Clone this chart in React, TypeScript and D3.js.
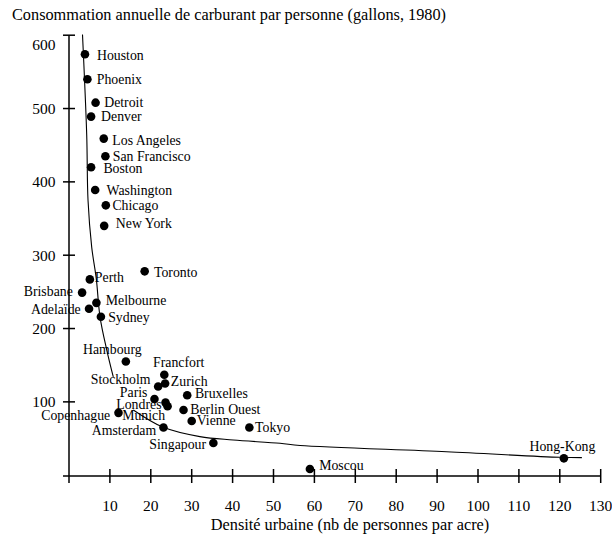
import React from "react";
import * as d3 from "d3";

// ---- Data ----
const cities = [
  "Houston", "Phoenix", "Detroit", "Denver", "Los Angeles", "San Francisco",
  "Boston", "Washington", "Chicago", "New York", "Perth", "Toronto",
  "Brisbane", "Melbourne", "Adelaïde", "Sydney", "Hambourg", "Francfort",
  "Zurich", "Stockholm", "Paris", "Londres", "Munich", "Copenhague",
  "Amsterdam", "Bruxelles", "Berlin Ouest", "Vienne", "Tokyo", "Singapour",
  "Moscou", "Hong-Kong",
];
// Urban density (persons per acre)
const density = [
  3.9, 4.5, 6.5, 5.4, 8.5, 8.9,
  5.4, 6.4, 9.0, 8.6, 5.1, 18.5,
  3.2, 6.7, 4.9, 7.8, 13.9, 23.3,
  23.5, 21.8, 20.9, 23.6, 24.1, 12.1,
  23.1, 28.9, 28.0, 30.0, 44.1, 35.3,
  58.9, 121.0,
];
// Annual fuel consumption per person (gallons, 1980)
const gallons = [
  574, 540, 508, 489, 459, 435,
  420, 389, 368, 340, 267, 278,
  249, 235, 227, 216, 155, 137,
  125, 121, 104, 99, 94, 85,
  65, 109, 89, 74, 65, 44,
  8.5, 23,
];
// Fitted curve as drawn in the reference (NaN = gap in the drawn line)
const curveX = [3.3, 4.33, 4.65, 5.55, 6.67, 7.58, 9.22, 10.83, NaN, 15.72, 23.06, 32.0, 40.17, 51.6, 56.5, 92.3, 120.0, 125.4];
const curveY = [601, 464, 375, 311, 268, 216, 171, 134, NaN, 89, 65.3, 52.6, 48.0, 43.5, 40.5, 32.0, 24.4, 23.9];

const xTicks = [10, 20, 30, 40, 50, 60, 70, 80, 90, 100, 110, 120, 130];
const yTicks = [100, 200, 300, 400, 500, 600];

const title = "Consommation annuelle de carburant par personne (gallons, 1980)";
const xTitle = "Densité urbaine (nb de personnes par acre)";

// ---- Label layout (anchor, dx, dy relative to the point) ----
const labelLayout: [string, number, number][] = [
  ["start", 12, 1], ["start", 9.4, 0], ["start", 8.6, 0], ["start", 10, 0], ["start", 8.6, 2], ["start", 7.4, 0],
  ["start", 12.3, 1], ["start", 11.4, 0.5], ["start", 6.6, 0], ["start", 11.7, -2], ["start", 5, -2], ["start", 9.3, 1.3],
  ["end", -9.3, -1], ["start", 9.4, -2], ["end", -8.3, 0.3], ["start", 7.3, 0.5], ["middle", -13.5, -12.4], ["middle", 14.4, -12.3],
  ["start", 5.7, -1.6], ["end", -7.6, -7], ["end", -7, -6.6], ["end", -4, 1.5], ["end", -2.5, 9.5], ["end", -8.3, 3],
  ["end", -7.3, 3.4], ["start", 7.7, -1.7], ["start", 6.7, 0], ["start", 5, 0], ["start", 5.7, 0], ["end", -7.3, 1.3],
  ["start", 9.3, -4], ["middle", -1.5, -12.3],
];

const W = 612;
const H = 537;
const FONT = "'Liberation Serif', 'Times New Roman', Times, serif";

export default function App() {
  const x = d3.scaleLinear().domain([0, 130]).range([69, 600.7]);
  const y = d3.scaleLinear().domain([0, 600]).range([475.2, 35.2]);
  const axisY = 476;

  const curvePts = curveX.map((cx, i) => [cx, curveY[i]] as [number, number]);
  const line = d3
    .line<[number, number]>()
    .defined((d) => !isNaN(d[0]) && !isNaN(d[1]))
    .x((d) => x(d[0]))
    .y((d) => y(d[1]))
    .curve(d3.curveCatmullRom.alpha(0.5));

  const labelFs = 13.8;

  return (
    <svg
      width={W}
      height={H}
      style={{ position: "absolute", left: 0, top: 0, background: "#fff" }}
      fontFamily={FONT}
    >
      <rect x={0} y={0} width={W} height={H} fill="#fff" />
      {/* title */}
      <text x={12} y={20} fontSize={16.3} fill="#000">
        {title}
      </text>

      {/* axes */}
      <line x1={x(0)} x2={x(0)} y1={y(600)} y2={483} stroke="#000" strokeWidth={1.5} />
      <line x1={x(0) - 6} x2={x(130)} y1={axisY} y2={axisY} stroke="#000" strokeWidth={1.5} />
      {xTicks.map((t) => (
        <g key={"xt" + t}>
          <line x1={x(t)} x2={x(t)} y1={axisY - 7} y2={axisY + 7} stroke="#000" strokeWidth={1.5} />
          <text x={x(t)} y={511} fontSize={15.5} textAnchor="middle" fill="#000">
            {t}
          </text>
        </g>
      ))}
      {yTicks.map((t) => (
        <g key={"yt" + t}>
          <line x1={x(0) - 6} x2={x(0) + 6} y1={y(t)} y2={y(t)} stroke="#000" strokeWidth={1.5} />
          <text
            x={55.5}
            y={y(t) + (t === 600 ? 9 : 0) + 5.3}
            fontSize={15.5}
            textAnchor="end"
            fill="#000"
          >
            {t}
          </text>
        </g>
      ))}
      <text x={350} y={530} fontSize={16.3} textAnchor="middle" fill="#000">
        {xTitle}
      </text>

      {/* fitted curve */}
      <path d={line(curvePts) || ""} fill="none" stroke="#000" strokeWidth={1.1} />

      {/* points */}
      {cities.map((c, i) => (
        <circle key={"p" + c} cx={x(density[i])} cy={y(gallons[i])} r={4.3} fill="#000" />
      ))}

      {/* labels */}
      {cities.map((c, i) => {
        const [anchor, dx, dy] = labelLayout[i];
        return (
          <text
            key={"l" + c}
            x={x(density[i]) + dx}
            y={y(gallons[i]) + dy + labelFs * 0.33}
            fontSize={labelFs}
            textAnchor={anchor as any}
            fill="#000"
          >
            {c}
          </text>
        );
      })}
    </svg>
  );
}
